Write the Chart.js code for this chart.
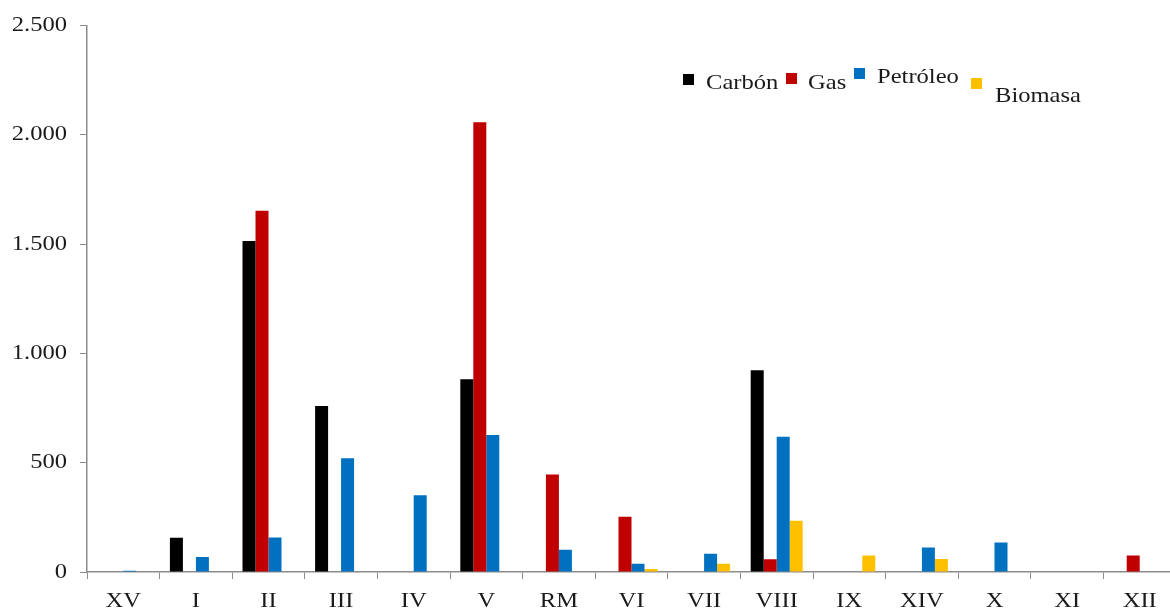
<!DOCTYPE html>
<html>
<head>
<meta charset="utf-8">
<script src="https://cdn.jsdelivr.net/npm/chart.js@4/dist/chart.umd.min.js"></script>
<style>
    html, body { margin: 0; padding: 0; background: #fff; overflow: hidden; }
    canvas { display: block; }
</style>
</head>
<body>
<canvas id="chart" width="1180" height="612"></canvas>
<script>
// Regions (north to south)
const regions = ['XV', 'I', 'II', 'III', 'IV', 'V', 'RM', 'VI', 'VII', 'VIII', 'IX', 'XIV', 'X', 'XI', 'XII'];

// Values per fuel
const carbon   = [0, 157, 1515, 759, 0, 882, 0, 0, 0, 923, 0, 0, 0, 0, 0];
const gas      = [0, 0, 1653, 0, 0, 2058, 446, 253, 0, 58, 0, 0, 0, 0, 75];
const petroleo = [6, 69, 158, 521, 351, 627, 102, 38, 83, 619, 0, 112, 135, 0, 0];
const biomasa  = [0, 0, 0, 0, 0, 0, 0, 14, 38, 234, 76, 59, 0, 0, 0];

const seriesNames = ['Carbón', 'Gas', 'Petróleo', 'Biomasa'];
const seriesColors = ['#000000', '#C00000', '#0070C0', '#FFC000'];

const yMax = 2500;
const yStep = 500;

const axisColor = '#8c8c8c';
const fontFamily = '"Liberation Serif", "Times New Roman", serif';
const fontSize = 21;
const textStretch = 1.17; // the original text is a bit wide

// Spanish number format: 2.500
function formatNumber(v) {
    return String(v).replace(/\B(?=(\d{3})+(?!\d))/g, '.');
}

// stretch the glyphs horizontally, around the anchor point
const stretchPlugin = {
    id: 'textStretch',
    beforeDraw(chart) {
        const ctx = chart.ctx;
        if (ctx._stretched) return;
        const fill = ctx.fillText.bind(ctx);
        ctx.fillText = function (text, x, y, maxWidth) {
            ctx.save();
            ctx.translate(x, y);
            ctx.scale(textStretch, 1);
            fill(text, 0, 0);
            ctx.restore();
        };
        ctx._stretched = true;
    }
};

// Legend is drawn by hand, the items are not on one line in the original
const legendPlugin = {
    id: 'looseLegend',
    afterDraw(chart) {
        const ctx = chart.ctx;
        const items = [
            { box: [683, 74], text: [706, 89] },
            { box: [786, 73], text: [808, 89] },
            { box: [854, 68], text: [877, 83] },
            { box: [971, 78], text: [995, 102] }
        ];
        ctx.save();
        ctx.font = fontSize + 'px ' + fontFamily;
        ctx.textBaseline = 'alphabetic';
        ctx.textAlign = 'left';
        chart.data.datasets.forEach((ds, i) => {
            const it = items[i];
            ctx.fillStyle = ds.backgroundColor;
            ctx.fillRect(it.box[0], it.box[1], 11, 11);
            ctx.fillStyle = '#1a1a1a';
            ctx.fillText(ds.label, it.text[0], it.text[1]);
        });
        ctx.restore();
    }
};

const datasets = [carbon, gas, petroleo, biomasa].map((values, i) => ({
    label: seriesNames[i],
    data: values,
    backgroundColor: seriesColors[i],
    borderWidth: 0,
    barPercentage: 1,
    categoryPercentage: 0.716
}));

const ctx = document.getElementById('chart').getContext('2d');
new Chart(ctx, {
    type: 'bar',
    data: {
        labels: regions,
        datasets: datasets
    },
    options: {
        responsive: false,
        animation: false,
        devicePixelRatio: 1,
        layout: {
            padding: { top: 12, right: 4, left: 0, bottom: 0 }
        },
        plugins: {
            legend: { display: false },
            tooltip: { enabled: false }
        },
        scales: {
            x: {
                grid: {
                    display: true,
                    drawOnChartArea: false,
                    drawTicks: true,
                    tickLength: 7,
                    color: axisColor,
                    offset: true
                },
                border: { color: axisColor, width: 1.5 },
                ticks: {
                    color: '#1a1a1a',
                    padding: 10,
                    font: { family: fontFamily, size: fontSize },
                    maxRotation: 0,
                    autoSkip: false
                },
                afterFit(scale) { scale.height = 40; }
            },
            y: {
                min: 0,
                max: yMax,
                grid: {
                    display: true,
                    drawOnChartArea: false,
                    drawTicks: true,
                    tickLength: 7,
                    color: axisColor
                },
                border: { color: axisColor, width: 1.5 },
                ticks: {
                    stepSize: yStep,
                    color: '#1a1a1a',
                    padding: 13,
                    font: { family: fontFamily, size: fontSize },
                    callback: v => formatNumber(v)
                },
                afterFit(scale) { scale.width = 87; }
            }
        }
    },
    plugins: [stretchPlugin, legendPlugin]
});
</script>
</body>
</html>
